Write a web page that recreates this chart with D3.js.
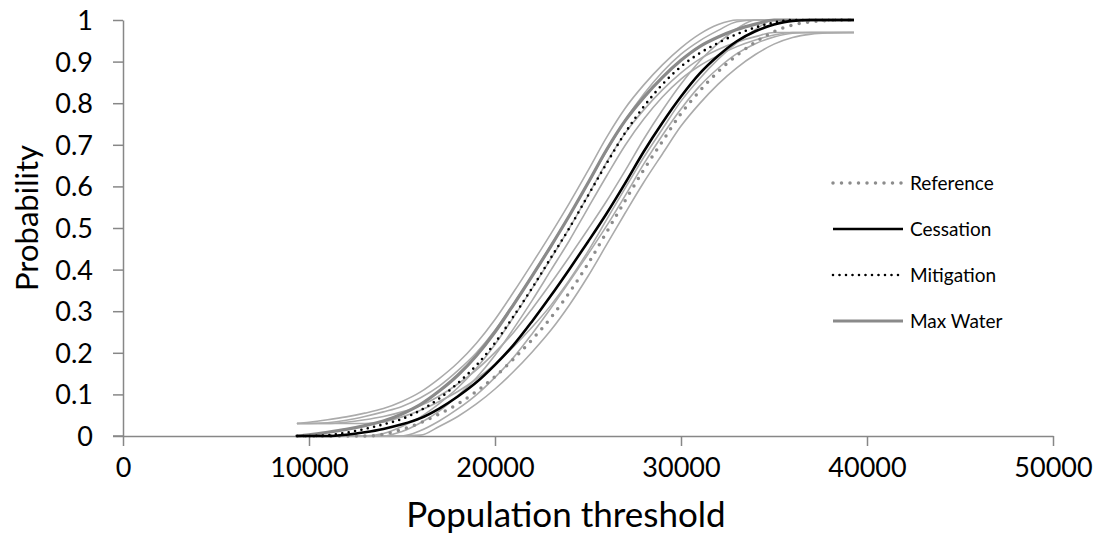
<!DOCTYPE html>
<html>
<head>
<meta charset="utf-8">
<script src="https://cdn.jsdelivr.net/npm/d3@7"></script>
<style>
  html, body { margin: 0; padding: 0; background: #fff; }
  svg { display: block; font-family: Lato, "Open Sans", sans-serif; }
</style>
</head>
<body>
<svg id="chart" width="1100" height="549"></svg>
<script>
// Population thresholds at which each cumulative probability is sampled
const thresholds = [9350, 10000, 11000, 12000, 13000, 14000, 15000, 16000, 17000, 18000,
  19000, 20000, 21000, 22000, 23000, 24000, 25000, 26000, 27000, 28000,
  29000, 30000, 31000, 32000, 33000, 34000, 35000, 36000, 37000, 38000, 39000, 39300];

// Cumulative probability per scenario
const reference = [0, 0, 0, 0, 0, 0.004, 0.016, 0.032, 0.053, 0.077,
  0.107, 0.143, 0.185, 0.232, 0.284, 0.345, 0.414, 0.490, 0.566, 0.640,
  0.708, 0.775, 0.829, 0.876, 0.915, 0.947, 0.972, 0.988, 0.996, 0.999, 1, 1];
const cessation = [0, 0, 0, 0.003, 0.009, 0.017, 0.028, 0.043, 0.066, 0.095,
  0.129, 0.171, 0.219, 0.276, 0.337, 0.401, 0.467, 0.535, 0.608, 0.684,
  0.753, 0.816, 0.871, 0.914, 0.949, 0.973, 0.989, 0.998, 1, 1, 1, 1];
const mitigation = [0, 0, 0.002, 0.008, 0.017, 0.028, 0.041, 0.062, 0.090, 0.127,
  0.170, 0.224, 0.288, 0.356, 0.428, 0.500, 0.578, 0.655, 0.729, 0.792,
  0.845, 0.888, 0.920, 0.945, 0.966, 0.982, 0.994, 1, 1, 1, 1, 1];
const maxWater = [0, 0.003, 0.009, 0.016, 0.025, 0.036, 0.053, 0.076, 0.108, 0.146,
  0.193, 0.250, 0.316, 0.385, 0.456, 0.530, 0.608, 0.688, 0.758, 0.814,
  0.862, 0.903, 0.936, 0.959, 0.977, 0.990, 1, 1, 1, 1, 1, 1];

// Confidence band edges per scenario
const referenceUpper = [0.03, 0.03, 0.03, 0.03, 0.03, 0.034, 0.046, 0.062, 0.083, 0.107,
  0.137, 0.173, 0.215, 0.262, 0.314, 0.375, 0.444, 0.520, 0.596, 0.670,
  0.738, 0.805, 0.859, 0.906, 0.945, 0.977, 1, 1, 1, 1, 1, 1];
const referenceLower = [0, 0, 0, 0, 0, 0, 0, 0.002, 0.023, 0.047,
  0.077, 0.113, 0.155, 0.202, 0.254, 0.315, 0.384, 0.460, 0.536, 0.610,
  0.678, 0.745, 0.799, 0.846, 0.885, 0.917, 0.942, 0.958, 0.966, 0.969, 0.97, 0.97];
const cessationUpper = [0.03, 0.03, 0.03, 0.033, 0.039, 0.047, 0.058, 0.073, 0.096, 0.125,
  0.159, 0.201, 0.249, 0.306, 0.367, 0.431, 0.497, 0.565, 0.638, 0.714,
  0.783, 0.846, 0.901, 0.944, 0.979, 1, 1, 1, 1, 1, 1, 1];
const cessationLower = [0, 0, 0, 0, 0, 0, 0, 0.013, 0.036, 0.065,
  0.099, 0.141, 0.189, 0.246, 0.307, 0.371, 0.437, 0.505, 0.578, 0.654,
  0.723, 0.786, 0.841, 0.884, 0.919, 0.943, 0.959, 0.968, 0.97, 0.97, 0.97, 0.97];
const mitigationUpper = [0.03, 0.03, 0.032, 0.038, 0.047, 0.058, 0.071, 0.092, 0.120, 0.157,
  0.200, 0.254, 0.318, 0.386, 0.458, 0.530, 0.608, 0.685, 0.759, 0.822,
  0.875, 0.918, 0.950, 0.975, 0.996, 1, 1, 1, 1, 1, 1, 1];
const mitigationLower = [0, 0, 0, 0, 0, 0, 0.011, 0.032, 0.060, 0.097,
  0.140, 0.194, 0.258, 0.326, 0.398, 0.470, 0.548, 0.625, 0.699, 0.762,
  0.815, 0.858, 0.890, 0.915, 0.936, 0.952, 0.964, 0.97, 0.97, 0.97, 0.97, 0.97];
const maxWaterUpper = [0.03, 0.033, 0.039, 0.046, 0.055, 0.066, 0.083, 0.106, 0.138, 0.176,
  0.223, 0.280, 0.346, 0.415, 0.486, 0.560, 0.638, 0.718, 0.788, 0.844,
  0.892, 0.933, 0.966, 0.989, 1, 1, 1, 1, 1, 1, 1, 1];
const maxWaterLower = [0, 0, 0, 0, 0, 0.006, 0.023, 0.046, 0.078, 0.116,
  0.163, 0.220, 0.286, 0.355, 0.426, 0.500, 0.578, 0.658, 0.728, 0.784,
  0.832, 0.873, 0.906, 0.929, 0.947, 0.960, 0.97, 0.97, 0.97, 0.97, 0.97, 0.97];

const xTicks = [0, 10000, 20000, 30000, 40000, 50000];
const yTicks = [0, 0.1, 0.2, 0.3, 0.4, 0.5, 0.6, 0.7, 0.8, 0.9, 1];
const legendNames = ["Reference", "Cessation", "Mitigation", "Max Water"];

const svg = d3.select("#chart");
const x = d3.scaleLinear().domain([0, 50000]).range([123, 1053]);
const y = d3.scaleLinear().domain([0, 1]).range([436, 20]);
const axisColor = "#878787";

// Axes
const xAxis = svg.append("g")
  .attr("transform", `translate(0,${y(0)})`)
  .call(d3.axisBottom(x).tickValues(xTicks).tickFormat(d3.format("d")).tickSize(10).tickSizeOuter(0));
const yAxis = svg.append("g")
  .attr("transform", `translate(${x(0)},0)`)
  .call(d3.axisLeft(y).tickValues(yTicks).tickFormat(d => d === 0 || d === 1 ? String(d) : d3.format(".1f")(d)).tickSize(10).tickSizeOuter(0));

[xAxis, yAxis].forEach(g => {
  g.select(".domain").attr("stroke", axisColor).attr("stroke-width", 1.5);
  g.selectAll(".tick line").attr("stroke", axisColor).attr("stroke-width", 1.5);
  g.selectAll(".tick text").attr("fill", "#000").style("font-size", "27px").style("font-family", "Lato, sans-serif");
});
xAxis.selectAll(".tick text").attr("y", 22).attr("dy", "0.71em");
yAxis.selectAll(".tick text").attr("x", -30).attr("dy", "0.35em");
// Extend the x axis leftwards to meet the zero tick of the y axis
svg.append("line")
  .attr("x1", x(0) - 10).attr("x2", x(0))
  .attr("y1", y(0)).attr("y2", y(0))
  .attr("stroke", axisColor).attr("stroke-width", 1.5);

// Axis titles
svg.append("text")
  .attr("x", 566).attr("y", 527)
  .attr("text-anchor", "middle")
  .style("font-size", "35px")
  .text("Population threshold");
svg.append("text")
  .attr("transform", "translate(38,218) rotate(-90)")
  .attr("text-anchor", "middle")
  .style("font-size", "31px")
  .text("Probability");

const line = d3.line()
  .x((d, i) => x(thresholds[i]))
  .y(d => y(d))
  .curve(d3.curveMonotoneX);

// Confidence bands
const bands = [referenceUpper, referenceLower, cessationUpper, cessationLower,
  mitigationUpper, mitigationLower, maxWaterUpper, maxWaterLower];
svg.append("g").selectAll("path").data(bands).join("path")
  .attr("d", line)
  .attr("fill", "none")
  .attr("stroke", "#ababab")
  .attr("stroke-width", 1.6);

// Scenario curves
const styles = {
  "Reference": { color: "#8c8c8c", width: 3.5, dash: "0 8.5", cap: "round" },
  "Cessation": { color: "#000000", width: 2.6, dash: null, cap: "butt" },
  "Mitigation": { color: "#000000", width: 2.6, dash: "0 6.5", cap: "round" },
  "Max Water": { color: "#8a8a8a", width: 3.2, dash: null, cap: "butt" }
};
const series = [
  { name: "Max Water", values: maxWater },
  { name: "Reference", values: reference },
  { name: "Cessation", values: cessation },
  { name: "Mitigation", values: mitigation }
];
svg.append("g").selectAll("path").data(series).join("path")
  .attr("d", d => line(d.values))
  .attr("fill", "none")
  .attr("stroke", d => styles[d.name].color)
  .attr("stroke-width", d => styles[d.name].width)
  .attr("stroke-dasharray", d => styles[d.name].dash)
  .attr("stroke-linecap", d => styles[d.name].cap);

// Legend
const legend = svg.append("g").selectAll("g").data(legendNames).join("g")
  .attr("transform", (d, i) => `translate(833,${183 + i * 46})`);
legend.append("line")
  .attr("x1", 0).attr("x2", 70)
  .attr("stroke", d => styles[d].color)
  .attr("stroke-width", d => styles[d].width)
  .attr("stroke-dasharray", d => styles[d].dash)
  .attr("stroke-linecap", d => styles[d].cap);
legend.append("text")
  .attr("x", 77).attr("dy", "0.35em")
  .style("font-size", "19px")
  .text(d => d);
</script>
</body>
</html>
